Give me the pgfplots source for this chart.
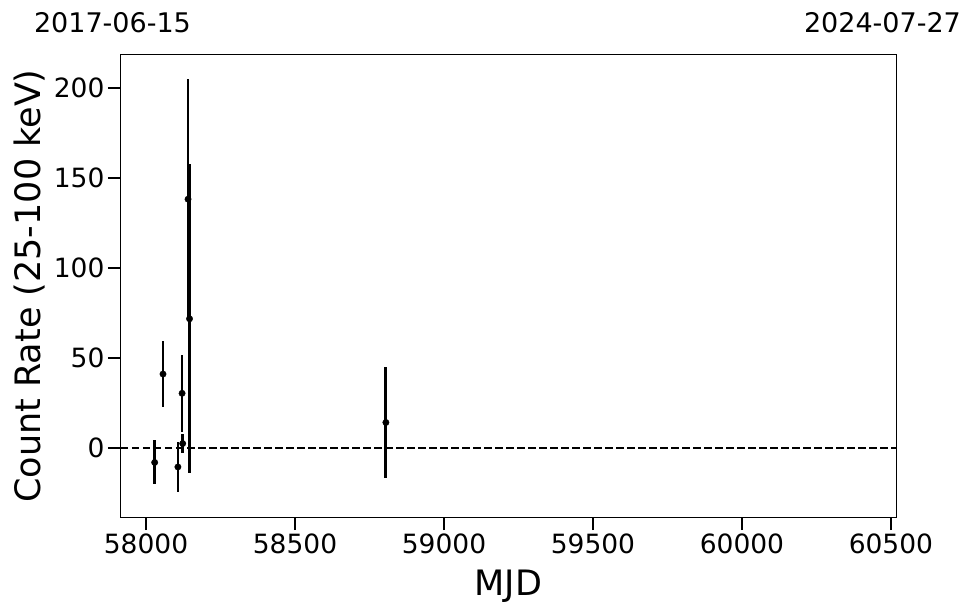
\documentclass[border=0pt]{standalone}
\usepackage{pgfplots}
\pgfplotsset{compat=1.18}
\usepackage{fontspec}
\setmainfont{DejaVu Sans}
\begin{document}
\begin{tikzpicture}
\begin{axis}[
  name=ax,
  scale only axis,
  width=775pt, height=462pt,
  xmin=57916, xmax=60517,
  ymin=-38.3, ymax=218.3,
  xtick={58000,58500,59000,59500,60000,60500},
  ytick={0,50,100,150,200},
  scaled x ticks=false,
  x tick label style={/pgf/number format/.cd, fixed, 1000 sep={}},
  /pgf/number format/assume math mode=true,
  tick label style={font=\fontsize{26.5}{30}\selectfont},
  tick align=outside,
  xtick pos=bottom, ytick pos=left,
  major tick length=13pt,
  every tick/.style={black, line width=2pt},
  axis line style={line width=1pt},
  xlabel={MJD},
  ylabel={Count Rate (25-100 keV)},
  xlabel style={font=\fontsize{35}{40}\selectfont, at={(rel axis cs:0.5,0)}, anchor=north, inner sep=0pt, yshift=-53pt},
  ylabel style={font=\fontsize{35}{40}\selectfont, at={(rel axis cs:0,0.5)}, rotate=0, anchor=south, inner sep=0pt, yshift=76pt},
  clip=false,
]
\addplot[black, line width=2.2pt, dash pattern=on 7.5pt off 3.5pt, forget plot] coordinates {(57916,0) (60517,0)};
\addplot[only marks, mark=*, mark size=3.2pt, black,
  error bars/.cd, y dir=both, y explicit, error mark=none,
  error bar style={line width=2.8pt, black}]
  table[x=x, y=y, y error=e] {
x y e
58029 -8 12.2
58057 41.1 18.3
58107 -10.5 14
58121 30.4 21.3
58123 2.5 5.3
58141 138.2 66.6
58146 71.8 85.8
58805 14.2 31
};
\node[font=\fontsize{27}{32}\selectfont, anchor=base, inner sep=0pt] at ([xshift=-8.5pt, yshift=22pt]rel axis cs:0,1) {2017-06-15};
\node[font=\fontsize{27}{32}\selectfont, anchor=base, inner sep=0pt] at ([xshift=-13.5pt, yshift=22pt]rel axis cs:1,1) {2024-07-27};
\end{axis}
\pgfresetboundingbox
\path ([shift={(-121pt,-96pt)}]ax.south west) rectangle ([shift={(78pt,55pt)}]ax.north east);
\end{tikzpicture}
\end{document}
